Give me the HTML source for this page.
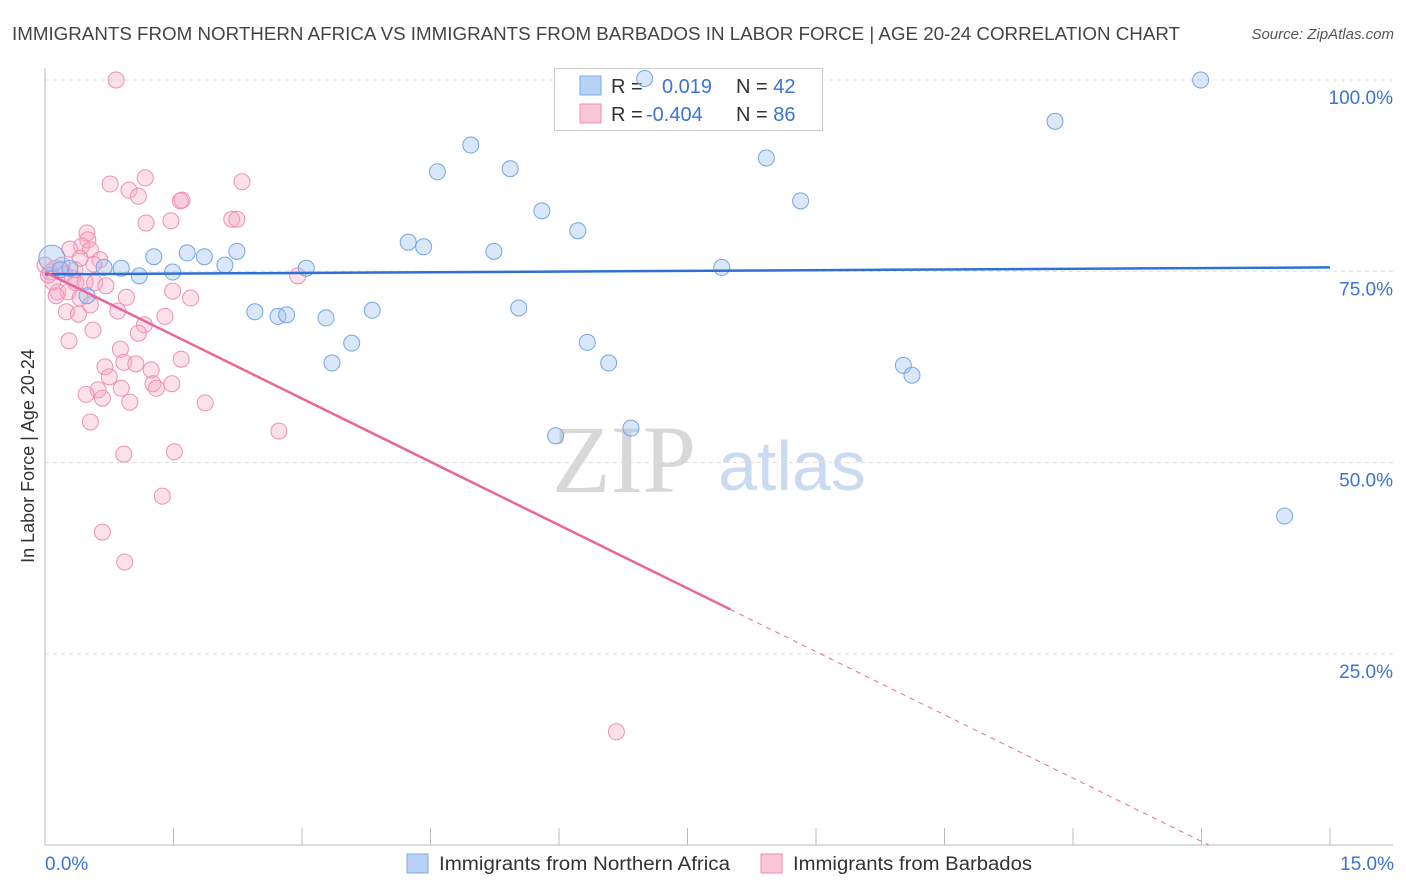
<!DOCTYPE html>
<html><head><meta charset="utf-8">
<style>
body{margin:0;background:#fff;width:1406px;height:892px;overflow:hidden;font-family:"Liberation Sans",sans-serif;}
svg{display:block}
</style></head>
<body>
<svg id="chart" width="1406" height="892" xmlns="http://www.w3.org/2000/svg">
<text x="12" y="40" font-size="18" fill="#444" textLength="1168" lengthAdjust="spacingAndGlyphs">IMMIGRANTS FROM NORTHERN AFRICA VS IMMIGRANTS FROM BARBADOS IN LABOR FORCE | AGE 20-24 CORRELATION CHART</text>
<text x="1394" y="39" font-size="15" fill="#555" font-style="italic" text-anchor="end">Source: ZipAtlas.com</text>
<g>
<text x="552" y="492" font-size="96" fill="#d8d8d8" font-family="Liberation Serif,serif">ZIP</text>
<text x="718" y="490" font-size="70" fill="#c9daf2">atlas</text>
</g>
<g id="grid"></g>
<g id="axes"></g>
<g>
<rect x="554.5" y="68.5" width="268" height="62" fill="#fff" stroke="#ccc"/>
<rect x="580" y="76" width="21" height="19" fill="#b7d2f5" stroke="#7aabe8"/>
<rect x="580" y="104" width="21" height="19" fill="#f9c6d6" stroke="#ee8fb0"/>
<text x="611" y="93" font-size="20" fill="#333">R = <tspan x="662" fill="#3b74d0">0.019</tspan><tspan x="736" fill="#333">N = </tspan><tspan fill="#3b74d0">42</tspan></text>
<text x="611" y="121" font-size="20" fill="#333">R = <tspan x="646" fill="#3b74d0">-0.404</tspan><tspan x="736" fill="#333">N = </tspan><tspan fill="#3b74d0">86</tspan></text>
</g>
<g id="marks"></g>
<g>
<rect x="407" y="854" width="21" height="19" fill="#b7d2f5" stroke="#7aabe8"/>
<text x="439" y="870" font-size="19" fill="#333" textLength="291" lengthAdjust="spacingAndGlyphs">Immigrants from Northern Africa</text>
<rect x="761" y="854" width="21" height="19" fill="#f9c6d6" stroke="#ee8fb0"/>
<text x="793" y="870" font-size="19" fill="#333" textLength="239" lengthAdjust="spacingAndGlyphs">Immigrants from Barbados</text>
</g>
<text transform="translate(34,456) rotate(-90)" font-size="18" fill="#333" text-anchor="middle">In Labor Force | Age 20-24</text>
</svg>
<script>
const blueX=[0.08,0.29,0.69,0.89,1.10,1.27,1.49,1.66,1.86,2.10,2.24,2.45,2.72,2.82,3.05,3.28,3.35,3.58,3.82,4.24,4.42,4.58,4.97,5.24,5.43,5.53,5.80,5.96,6.22,6.33,6.58,6.84,7.00,7.90,8.42,8.82,10.02,10.12,11.79,13.49,14.47,0.49,0.18];
const blueY=[76.7,75.4,75.5,75.4,74.4,76.9,74.9,77.4,76.9,75.8,77.6,69.7,69.1,69.3,75.4,68.9,63.0,65.6,69.9,78.8,78.2,88.0,91.5,77.6,88.4,70.2,82.9,53.5,80.3,65.7,63.0,54.5,100.2,75.5,89.8,84.2,62.7,61.4,94.6,100.0,43.0,71.8,75.2];
const pinkX=[0.83,0.76,0.98,1.09,1.17,1.60,1.58,2.30,1.18,1.47,2.18,2.24,0.49,0.50,0.29,0.43,0.53,0.41,0.64,0.57,0.12,0.20,0.06,0.23,0.32,0.36,0.47,0.58,0.71,0.15,0.27,0.41,0.53,0.95,0.13,0.25,0.39,0.85,0.56,1.16,1.09,1.40,1.70,1.49,2.95,0.28,0.88,1.59,0.70,0.92,1.24,1.06,0.75,1.26,1.30,1.48,0.89,0.62,0.48,0.67,0.99,1.87,0.53,2.73,0.92,1.51,1.37,0.67,0.93,6.67,0.09,0.35,0.0,0.04];
const pinkY=[100.0,86.4,85.6,84.8,87.2,84.3,84.2,86.7,81.3,81.6,81.8,81.8,80.0,79.1,77.9,78.3,77.8,76.7,76.5,75.9,75.4,75.8,74.9,74.6,74.1,73.5,73.6,73.5,73.1,72.3,72.3,71.5,70.6,71.6,71.8,69.7,69.4,69.8,67.3,68.0,66.9,69.1,71.5,72.4,74.4,65.9,64.8,63.5,62.5,63.1,62.1,62.9,61.2,60.3,59.7,60.3,59.7,59.5,58.9,58.4,57.9,57.8,55.3,54.1,51.1,51.4,45.6,40.9,37.0,14.8,73.6,75.2,75.8,74.5];
const blueLine=[74.6,75.5];
const pinkLine=[74.9,-7.8];
const yTicks=[25,50,75,100];
const yTickLabels=["25.0%","50.0%","75.0%","100.0%"];
const xTicks=[0,1.5,3,4.5,6,7.5,9,10.5,12,13.5,15];

const NS="http://www.w3.org/2000/svg";
const xs=v=>45+v/15*1285;
const ys=v=>845-v*7.65;
function mk(tag,attrs,parent){const e=document.createElementNS(NS,tag);for(const k in attrs)e.setAttribute(k,attrs[k]);parent.appendChild(e);return e;}
const grid=document.getElementById('grid'),axes=document.getElementById('axes'),marks=document.getElementById('marks');
yTicks.forEach((t,i)=>{
  const l=mk('line',{x1:45,x2:1393,y1:ys(t),y2:ys(t),stroke:'#ddd','stroke-dasharray':'4 4'},grid);
  
  
  const tx=mk('text',{x:1393,y:ys(t)+24,'font-size':19,fill:'#3b74d0','text-anchor':'end'},axes);
  tx.textContent=yTickLabels[i];
  
  
});
const ya=mk('line',{x1:45,x2:45,y1:68,y2:845,stroke:'#bbb'},axes);


const xa=mk('line',{x1:45,x2:1393,y1:845,y2:845,stroke:'#bbb'},axes);


xTicks.forEach(t=>{
  const l=mk('line',{x1:xs(t),x2:xs(t),y1:828,y2:845,stroke:'#bbb'},axes);
  
  
});
const x0=mk('text',{x:45,y:870,'font-size':19,fill:'#3b74d0'},axes);x0.textContent='0.0%';


const x1=mk('text',{x:1394,y:870,'font-size':19,fill:'#3b74d0','text-anchor':'end'},axes);x1.textContent='15.0%';



pinkX.forEach((x,i)=>{
  const c=mk('circle',{cx:xs(x),cy:ys(pinkY[i]),r:8,fill:'rgba(246,170,198,0.35)',stroke:'#ef8fb1','stroke-width':1},marks);
  
  
});
blueX.forEach((x,i)=>{
  const c=mk('circle',{cx:xs(x),cy:ys(blueY[i]),r:i===0?13:8,fill:'rgba(160,196,240,0.4)',stroke:'#72a6e6','stroke-width':1},marks);
  
  
});
const bl=mk('line',{x1:xs(0),y1:ys(blueLine[0]),x2:xs(15),y2:ys(blueLine[1]),stroke:'#2f6fd6','stroke-width':2.5},marks);


const pv=t=>pinkLine[0]+(pinkLine[1]-pinkLine[0])*t/15;
const solidEnd=8.0;
const pl=mk('line',{x1:xs(0),y1:ys(pv(0)),x2:xs(solidEnd),y2:ys(pv(solidEnd)),stroke:'#e8679a','stroke-width':2.5},marks);


const zeroX=15*pinkLine[0]/(pinkLine[0]-pinkLine[1]);
const pd=mk('line',{x1:xs(solidEnd),y1:ys(pv(solidEnd)),x2:xs(zeroX),y2:ys(0),stroke:'#e8679a','stroke-width':1,'stroke-dasharray':'5 5'},marks);


</script>
</body></html>
